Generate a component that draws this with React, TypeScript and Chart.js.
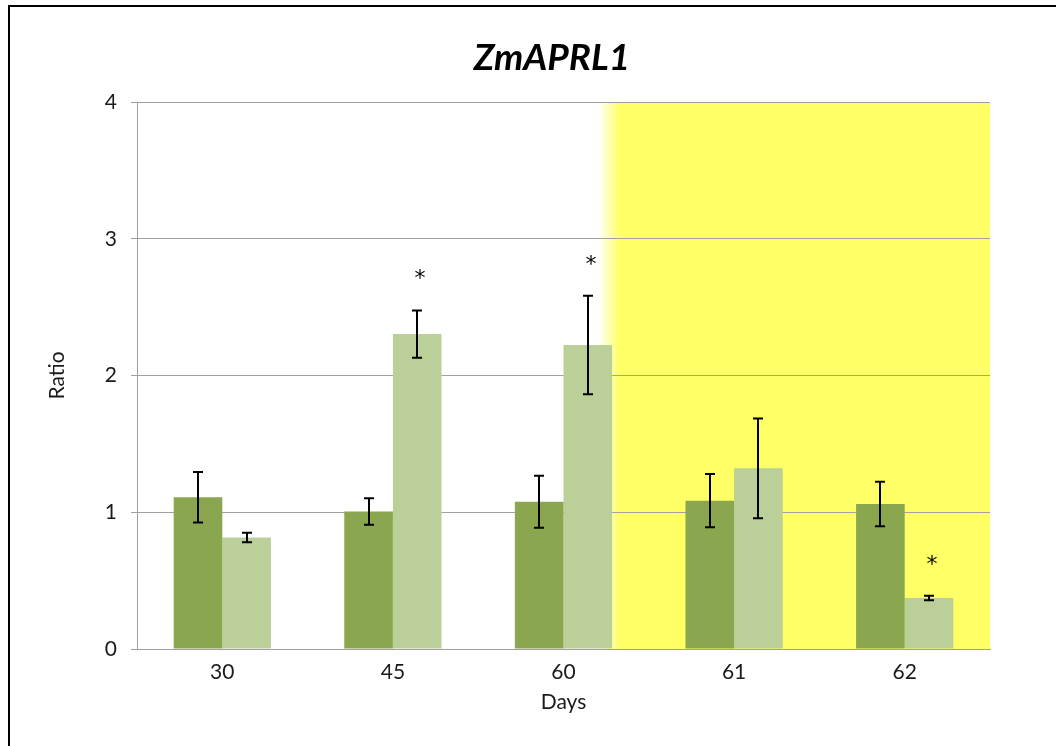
import React, { useEffect, useRef } from "react";
import { Chart, registerables } from "chart.js";

Chart.register(...registerables);

// Sampling days (categories)
const days = ["30", "45", "60", "61", "62"];

// Dark green series: mean ratio and error
const darkValues = [1.11, 1.005, 1.077, 1.085, 1.06];
const darkErrors = [0.185, 0.097, 0.19, 0.195, 0.163];

// Light green series: mean ratio and error
const lightValues = [0.815, 2.303, 2.223, 1.321, 0.373];
const lightErrors = [0.035, 0.173, 0.36, 0.365, 0.017];
const lightSignificant = [false, true, true, false, true];

// Y axis range and step
const yMin = 0;
const yMax = 4;
const yStep = 1;

// Shaded period begins inside the "60" category and runs to the end
const shadeCategoryIndex = 2;
const shadeFadeStart = 0.2; // fraction of a category width past its centre
const shadeFadeEnd = 0.33;

const FONT = "Lato, 'Open Sans', sans-serif";
const DARK = "#8aa64f";
const LIGHT = "#bbcf98";
const YELLOW = "rgba(255,255,102,1)";
const YELLOW_CLEAR = "rgba(255,255,102,0)";

const framePlugin = {
  id: "frameAndTitle",
  beforeDraw(chart: any) {
    const { ctx, width, height } = chart;
    ctx.save();
    ctx.fillStyle = "#ffffff";
    ctx.fillRect(0, 0, width, height);
    ctx.strokeStyle = "#000000";
    ctx.lineWidth = 2;
    ctx.strokeRect(9, 6, width + 20, height + 20);
    ctx.restore();
  },
  afterDraw(chart: any) {
    const { ctx } = chart;
    ctx.save();
    ctx.font = `italic bold 37px ${FONT}`;
    ctx.fillStyle = "#000000";
    ctx.textAlign = "center";
    ctx.textBaseline = "middle";
    ctx.fillText("ZmAPRL1", 552, 58);
    ctx.restore();
  },
};

// Yellow shading painted before the scales, so gridlines sit on top of it
const shadePlugin = {
  id: "shadePeriod",
  beforeDraw(chart: any) {
    const { ctx, chartArea, scales } = chart;
    const x = scales.x;
    const c0 = x.getPixelForValue(shadeCategoryIndex);
    const cw = x.getPixelForValue(shadeCategoryIndex + 1) - c0;
    const s = c0 + cw * shadeFadeStart;
    const e = c0 + cw * shadeFadeEnd;
    ctx.save();
    const g = ctx.createLinearGradient(s, 0, e, 0);
    g.addColorStop(0, YELLOW_CLEAR);
    g.addColorStop(1, YELLOW);
    ctx.fillStyle = g;
    ctx.fillRect(s, chartArea.top, chartArea.right - s, chartArea.bottom - chartArea.top);
    ctx.restore();
  },
};

const errorPlugin = {
  id: "errorBars",
  afterDatasetsDraw(chart: any) {
    const { ctx, scales } = chart;
    const y = scales.y;
    const errs = [darkErrors, lightErrors];
    ctx.save();
    ctx.strokeStyle = "#000000";
    ctx.lineWidth = 2;
    chart.data.datasets.forEach((ds: any, di: number) => {
      const meta = chart.getDatasetMeta(di);
      meta.data.forEach((bar: any, i: number) => {
        const v = ds.data[i];
        const e = errs[di][i];
        const px = Math.round(bar.x);
        const top = y.getPixelForValue(v + e);
        const bot = y.getPixelForValue(v - e);
        ctx.beginPath();
        ctx.moveTo(px, top);
        ctx.lineTo(px, bot);
        ctx.moveTo(px - 5, top);
        ctx.lineTo(px + 5, top);
        ctx.moveTo(px - 5, bot);
        ctx.lineTo(px + 5, bot);
        ctx.stroke();
        if (di === 1 && lightSignificant[i]) {
          ctx.font = `22px 'DejaVu Sans', sans-serif`;
          ctx.fillStyle = "#000000";
          ctx.textAlign = "center";
          ctx.textBaseline = "alphabetic";
          ctx.fillText("*", px + 3, top - 25);
        }
      });
    });
    ctx.restore();
  },
};

export default function App() {
  const ref = useRef<HTMLCanvasElement | null>(null);

  useEffect(() => {
    if (!ref.current) return;
    const chart = new Chart(ref.current, {
      type: "bar",
      data: {
        labels: days,
        datasets: [
          {
            label: "dark",
            data: darkValues,
            backgroundColor: DARK,
            barPercentage: 1,
            categoryPercentage: 0.57,
          },
          {
            label: "light",
            data: lightValues,
            backgroundColor: LIGHT,
            barPercentage: 1,
            categoryPercentage: 0.57,
          },
        ],
      },
      options: {
        responsive: false,
        animation: false,
        devicePixelRatio: 1,
        layout: { padding: { top: 102, left: 30, right: 66, bottom: 0 } },
        plugins: {
          legend: { display: false },
          tooltip: { enabled: false },
          title: { display: false },
        },
        scales: {
          x: {
            afterFit: (s: any) => {
              s.height = 97;
            },
            grid: { display: false, drawTicks: false },
            border: { display: true, color: "#a0a0a0", width: 1 },
            ticks: { color: "#1a1a1a", font: { family: FONT, size: 21 }, padding: 11 },
            title: {
              display: true,
              text: "Days",
              color: "#1a1a1a",
              font: { family: FONT, size: 21 },
              padding: { top: 2, bottom: 31 },
            },
          },
          y: {
            min: yMin,
            max: yMax,
            afterFit: (s: any) => {
              s.width = 107;
            },
            grid: { color: "#a0a0a0", lineWidth: 1, tickLength: 6, drawTicks: true },
            border: { display: true, color: "#a0a0a0", width: 1 },
            ticks: { stepSize: yStep, color: "#1a1a1a", font: { family: FONT, size: 21 }, padding: 14 },
            title: {
              display: true,
              text: "Ratio",
              color: "#1a1a1a",
              font: { family: FONT, size: 21 },
              padding: { top: 15, bottom: 0 },
            },
          },
        },
      },
      plugins: [framePlugin, shadePlugin, errorPlugin],
    });
    return () => chart.destroy();
  }, []);

  return (
    <div style={{ position: "absolute", left: 0, top: 0, width: 1056, height: 746 }}>
      <canvas ref={ref} width={1056} height={746} style={{ display: "block" }} />
    </div>
  );
}
